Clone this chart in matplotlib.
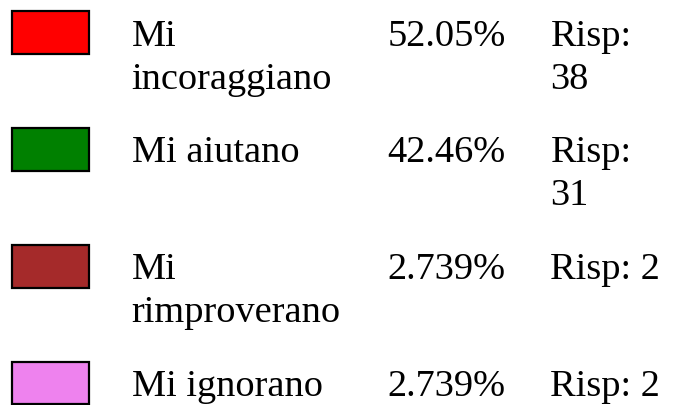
import matplotlib
matplotlib.use("Agg")
import matplotlib.pyplot as plt
from matplotlib.patches import Rectangle

labels = ["Mi\nincoraggiano", "Mi aiutano", "Mi\nrimproverano", "Mi ignorano"]
percents = ["52.05%", "42.46%", "2.739%", "2.739%"]
counts = ["Risp:\n38", "Risp:\n31", "Risp: 2", "Risp: 2"]
colors = ["#FF0000", "#008000", "#A52A2A", "#EE82EE"]

W, H = 677, 406
fig = plt.figure(figsize=(W / 100, H / 100), dpi=100)
ax = fig.add_axes([0, 0, 1, 1])
ax.set_xlim(0, W)
ax.set_ylim(H, 0)
ax.axis("off")

fs = 27.6
font = dict(family=["Liberation Serif", "DejaVu Serif"], fontsize=fs, color="black")
pitch = 116.8
line_h = 43.0
sw_x, sw_w, sw_h = 12.3, 77.0, 42.7
top0 = 12.3
base_off = 33.4
x_label, x_pct, x_cnt = 131.5, 387.5, 550.5

for i, (lab, pct, cnt, col) in enumerate(zip(labels, percents, counts, colors)):
    top = top0 + i * pitch
    ax.add_patch(Rectangle((sw_x, top), sw_w, sw_h, facecolor=col,
                           edgecolor="black", linewidth=1.6))
    base = top + base_off
    for x, txt in ((x_label, lab), (x_pct, pct), (x_cnt, cnt)):
        for j, line in enumerate(txt.split("\n")):
            ax.text(x, base + j * line_h, line, ha="left", va="baseline", **font)

fig.savefig("out.png", dpi=100)
